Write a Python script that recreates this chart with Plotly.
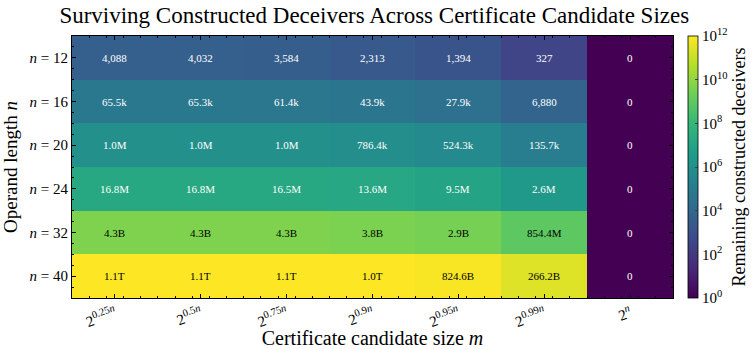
import numpy as np
import plotly.graph_objects as go

col_labels = ["2<sup>0.25<i>n</i></sup>", "2<sup>0.5<i>n</i></sup>", "2<sup>0.75<i>n</i></sup>",
              "2<sup>0.9<i>n</i></sup>", "2<sup>0.95<i>n</i></sup>", "2<sup>0.99<i>n</i></sup>",
              "2<sup><i>n</i></sup>"]
row_labels = ["<i>n</i> = 12", "<i>n</i> = 16", "<i>n</i> = 20", "<i>n</i> = 24",
              "<i>n</i> = 32", "<i>n</i> = 40"]

row_n12 = [4088, 4032, 3584, 2313, 1394, 327, 0]
row_n16 = [65.5e3, 65.3e3, 61.4e3, 43.9e3, 27.9e3, 6880, 0]
row_n20 = [1.0e6, 1.0e6, 1.0e6, 786.4e3, 524.3e3, 135.7e3, 0]
row_n24 = [16.8e6, 16.8e6, 16.5e6, 13.6e6, 9.5e6, 2.6e6, 0]
row_n32 = [4.3e9, 4.3e9, 4.3e9, 3.8e9, 2.9e9, 854.4e6, 0]
row_n40 = [1.1e12, 1.1e12, 1.1e12, 1.0e12, 824.6e9, 266.2e9, 0]

values = np.array([row_n12, row_n16, row_n20, row_n24, row_n32, row_n40], dtype=float)
z = np.log10(np.maximum(values, 1.0))

cb_ticks = [0, 2, 4, 6, 8, 10, 12]
cb_text = ["10<sup>%d</sup>" % t for t in cb_ticks]


def fmt(v):
    if v < 10000:
        return "{:,}".format(int(round(v)))
    for div, suf in [(1e12, "T"), (1e9, "B"), (1e6, "M"), (1e3, "k")]:
        if v >= div:
            return "%.1f%s" % (v / div, suf)
    return str(v)


FONT = "Liberation Serif, Times New Roman, serif"
xs = list(range(len(col_labels)))
ys = list(range(len(row_labels)))

fig = go.Figure()
fig.add_trace(go.Heatmap(
    z=z, x=xs, y=ys, colorscale="Viridis", zmin=0, zmax=12,
    xgap=0, ygap=0, hoverinfo="skip",
    colorbar=dict(
        x=688 / 756, xanchor="left", xref="container", thickness=10, len=1.0, lenmode="fraction",
        y=0.5, yanchor="middle", yref="paper", outlinewidth=0.8, outlinecolor="black",
        tickvals=cb_ticks, ticktext=cb_text, ticks="inside", ticklen=3, xpad=0, ypad=0,
        tickfont=dict(family=FONT, size=15, color="black"),
        title=dict(text="Remaining constructed deceivers", side="right",
                   font=dict(family=FONT, size=18, color="black")),
    ),
))

annotations = []
for i in ys:
    for j in xs:
        v = values[i, j]
        color = "black" if z[i, j] > 8 else "white"
        annotations.append(dict(x=j, y=i, xref="x", yref="y", text=fmt(v), showarrow=False,
                                font=dict(family=FONT, size=11, color=color)))

fig.update_layout(
    width=756, height=349,
    margin=dict(l=72, r=83, t=36, b=51, autoexpand=False),
    paper_bgcolor="white", plot_bgcolor="white",
    font=dict(family=FONT, color="black"),
    title=dict(text="Surviving Constructed Deceivers Across Certificate Candidate Sizes",
               x=0.503, xanchor="center", xref="paper", y=0.958, yanchor="middle",
               font=dict(family=FONT, size=23, color="black")),
    annotations=annotations,
)
fig.update_xaxes(
    tickvals=xs, ticktext=col_labels, tickangle=-20, range=[-0.5, 6.5],
    showline=True, linecolor="black", linewidth=1, mirror="allticks",
    ticks="inside", ticklen=4, tickcolor="black",
    minor=dict(ticks="inside", ticklen=2, dtick=0.2, tick0=-0.5, tickcolor="black"),
    tickfont=dict(family=FONT, size=15), showgrid=False, zeroline=False,
    title=dict(text="Certificate candidate size <i>m</i>", font=dict(family=FONT, size=20), standoff=6),
)
fig.update_yaxes(
    tickvals=ys, ticktext=row_labels, range=[5.5, -0.5],
    showline=True, linecolor="black", linewidth=1, mirror="allticks",
    ticks="inside", ticklen=4, tickcolor="black",
    minor=dict(ticks="inside", ticklen=2, dtick=0.25, tick0=-0.5, tickcolor="black"),
    tickfont=dict(family=FONT, size=15), showgrid=False, zeroline=False,
    title=dict(text="Operand length <i>n</i>", font=dict(family=FONT, size=19), standoff=6),
)

fig.write_html("out.html")
